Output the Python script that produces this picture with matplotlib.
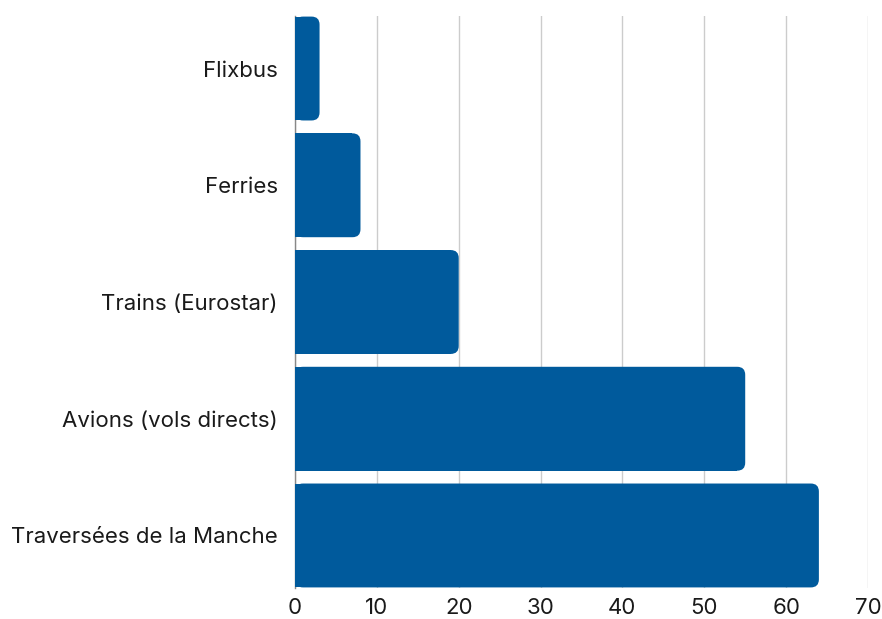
import matplotlib
matplotlib.use('Agg')
import matplotlib.pyplot as plt
from matplotlib.patches import FancyBboxPatch

# Data
categories = ['Traversées de la Manche', 'Avions (vols directs)', 'Trains (Eurostar)', 'Ferries', 'Flixbus']
values = [64, 55, 20, 8, 3]
x_ticks = [0, 10, 20, 30, 40, 50, 60, 70]

bar_color = '#005a9c'
plt.rcParams['font.family'] = ['Inter', 'DejaVu Sans']

fig = plt.figure(figsize=(8.82, 6.19), dpi=100)
ax = fig.add_axes([295 / 882, 31 / 619, 573 / 882, 572 / 619])

ax.set_xlim(0, 70)
ax.set_ylim(-0.45, 4.45)

# pixel scales, used to keep the corner radius round
px_x = 573 / 70
px_y = 572 / 4.9
radius = 8 / px_x
height = 0.89

for i, v in enumerate(values):
    # square left part, then a rounded box on top for the right corners
    ax.barh(i, max(v - radius, 0), height=height, color=bar_color, zorder=3)
    box = FancyBboxPatch((0, i - height / 2), v, height,
                         boxstyle=f'round,pad=0,rounding_size={radius}',
                         mutation_aspect=px_x / px_y,
                         facecolor=bar_color, edgecolor='none', zorder=3)
    ax.add_patch(box)

ax.set_yticks(range(len(categories)))
ax.set_yticklabels(categories)
ax.set_xticks(x_ticks)
ax.tick_params(axis='both', length=0, labelsize=16, colors='#1a1a1a')
ax.tick_params(axis='y', pad=12.5)
ax.tick_params(axis='x', pad=7)

ax.grid(axis='x', color='#cccccc', linewidth=1, zorder=0)
ax.set_axisbelow(True)
for s in ['top', 'right', 'bottom']:
    ax.spines[s].set_visible(False)
ax.spines['left'].set_color('#888888')
ax.spines['left'].set_linewidth(1)

fig.savefig('out.png', dpi=100)
